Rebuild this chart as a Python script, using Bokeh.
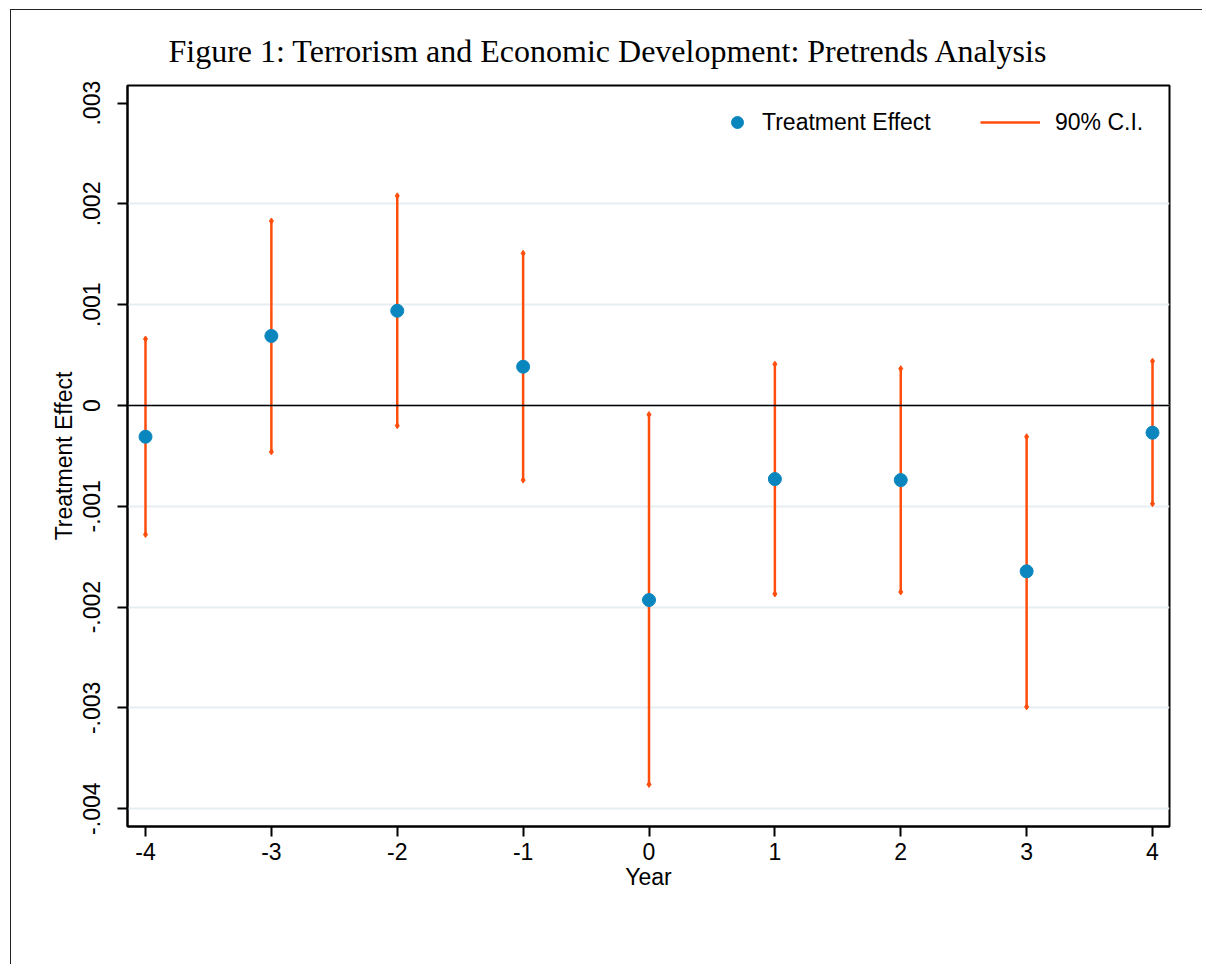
from bokeh.plotting import figure
from bokeh.models import (Range1d, FixedTicker, Span, Legend, LegendItem, ColumnDataSource, Title)
from bokeh.embed import file_html
from bokeh.resources import INLINE

# ---- data ----
years = [-4, -3, -2, -1, 0, 1, 2, 3, 4]
effect = [-0.00031, 0.00069, 0.00094, 0.000385, -0.00193, -0.00073, -0.00074, -0.001645, -0.00027]
ci_low = [-0.00128, -0.00046, -0.00020, -0.00074, -0.00376, -0.00187, -0.00185, -0.00299, -0.000975]
ci_high = [0.00066, 0.00183, 0.00208, 0.00151, -0.00009, 0.00041, 0.000365, -0.00031, 0.00044]

y_ticks = [-0.004, -0.003, -0.002, -0.001, 0.0, 0.001, 0.002, 0.003]
y_tick_labels = ["-.004", "-.003", "-.002", "-.001", "0", ".001", ".002", ".003"]
grid_ticks = [-0.004, -0.003, -0.002, -0.001, 0.0, 0.001, 0.002]
x_ticks = [-4, -3, -2, -1, 0, 1, 2, 3, 4]
x_tick_labels = ["-4", "-3", "-2", "-1", "0", "1", "2", "3", "4"]

title_text = "Figure 1: Terrorism and Economic Development: Pretrends Analysis"
x_label = "Year"
y_label = "Treatment Effect"
legend_labels = ["Treatment Effect", "90% C.I."]

BLUE = "#0a86bf"
ORANGE = "#ff4e0c"
SANS = "Liberation Sans"
SERIF = "Liberation Serif"

src = ColumnDataSource(dict(x=years, y=effect, lo=ci_low, hi=ci_high))

p = figure(width=1192, height=955, output_backend="svg", toolbar_location=None,
           x_range=Range1d(-4.143, 4.135), y_range=Range1d(-0.004177, 0.003175),
           min_border_left=116, min_border_top=75, min_border_right=34, min_border_bottom=139,
           styles={"border-left": "1px solid #222", "border-top": "1px solid #222",
                   "margin-left": "10px", "margin-top": "9px"})

p.background_fill_color = "white"
p.border_fill_color = "white"
p.outline_line_color = "black"
p.outline_line_width = 2
p.outline_line_alpha = 1.0

# title
t = Title(text=title_text, align="left", offset=41, standoff=34,
          text_font=SERIF, text_font_size="32px", text_font_style="normal", text_color="black")
p.title = t

# grids
p.xgrid.visible = False
p.ygrid.ticker = FixedTicker(ticks=grid_ticks)
p.ygrid.grid_line_color = "#e6eef1"
p.ygrid.grid_line_width = 2

# axes
p.xaxis.ticker = FixedTicker(ticks=x_ticks)
p.xaxis.major_label_overrides = {k: v for k, v in zip(x_ticks, x_tick_labels)}
p.yaxis.ticker = FixedTicker(ticks=y_ticks)
p.yaxis.major_label_overrides = {k: v for k, v in zip(y_ticks, y_tick_labels)}
p.yaxis.major_label_orientation = "vertical"
for ax in (p.xaxis[0], p.yaxis[0]):
    ax.axis_line_width = 2
    ax.axis_line_color = "black"
    ax.major_tick_line_width = 2
    ax.major_tick_line_color = "black"
    ax.major_tick_out = 10
    ax.major_tick_in = 0
    ax.minor_tick_out = 0
    ax.minor_tick_in = 0
    ax.major_label_text_font = SANS
    ax.major_label_text_font_size = "23px"
    ax.major_label_text_color = "black"
    ax.axis_label_text_font = SANS
    ax.axis_label_text_font_size = "23px"
    ax.axis_label_text_font_style = "normal"
    ax.axis_label_text_color = "black"
p.xaxis.axis_label = x_label
p.yaxis.axis_label = y_label
p.xaxis.major_label_standoff = 6
p.xaxis.axis_label_standoff = 1
p.yaxis.major_label_standoff = 17
p.yaxis.axis_label_standoff = 4

# zero line
p.add_layout(Span(location=0, dimension="width", line_color="black", line_width=1.5))

# CI
seg = p.segment(x0="x", y0="lo", x1="x", y1="hi", source=src, line_color=ORANGE, line_width=2.5)
p.scatter(x="x", y="lo", source=src, marker="diamond", size=6, color=ORANGE)
p.scatter(x="x", y="hi", source=src, marker="diamond", size=6, color=ORANGE)

# points
pts = p.scatter(x="x", y="y", source=src, marker="circle", size=13, fill_color=BLUE, line_color=BLUE)

common = dict(padding=0, margin=0, spacing=0, border_line_color=None, background_fill_alpha=0,
              label_text_font=SANS, label_text_font_size="23px", label_text_color="black",
              glyph_height=30, label_height=30)
leg1 = Legend(items=[LegendItem(label=legend_labels[0], renderers=[pts])],
              location=(595, 689), glyph_width=30, label_standoff=10, **common)
leg2 = Legend(items=[LegendItem(label=legend_labels[1], renderers=[seg])],
              location=(853, 689), glyph_width=60, label_standoff=15, **common)
p.add_layout(leg1, "center")
p.add_layout(leg2, "center")

open("out.html", "w").write(file_html(p, INLINE))
